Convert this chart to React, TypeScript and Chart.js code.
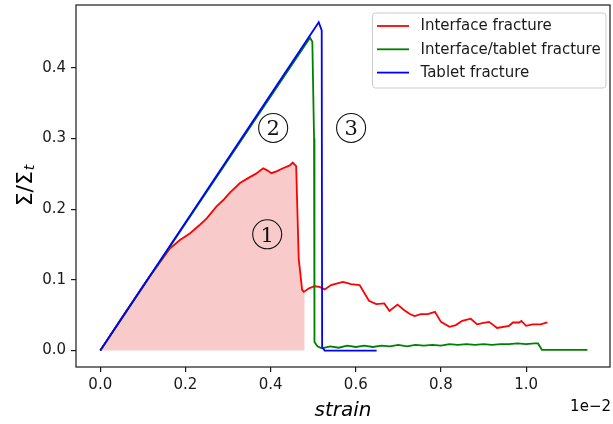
import React, { useEffect, useRef } from 'react';
import { Chart, registerables } from 'chart.js';

Chart.register(...registerables);

// ---- data ----
const xTicks = [0, 0.2, 0.4, 0.6, 0.8, 1.0];
const yTicks = [0, 0.1, 0.2, 0.3, 0.4];
const seriesLabels = ['Interface fracture', 'Interface/tablet fracture', 'Tablet fracture'];
const seriesColors = ['#ff0000', '#008000', '#0000ff'];

const redStrain = [0, 0.05, 0.10, 0.117, 0.1327, 0.164, 0.187, 0.211, 0.234, 0.25, 0.273, 0.289, 0.304, 0.328, 0.347, 0.365, 0.3825, 0.392, 0.402, 0.415, 0.429, 0.445, 0.452, 0.46, 0.466, 0.474, 0.478, 0.49, 0.503, 0.515, 0.527, 0.542, 0.557, 0.57, 0.589, 0.609, 0.631, 0.648, 0.667, 0.679, 0.698, 0.714, 0.726, 0.738, 0.753, 0.769, 0.786, 0.80, 0.82, 0.835, 0.85, 0.87, 0.885, 0.90, 0.913, 0.932, 0.96, 0.969, 0.984, 0.989, 1.0, 1.015, 1.034, 1.05];
const redStress = [0, 0.046, 0.091, 0.106, 0.1186, 0.1447, 0.1565, 0.166, 0.178, 0.187, 0.204, 0.213, 0.223, 0.237, 0.244, 0.25, 0.258, 0.255, 0.251, 0.254, 0.258, 0.262, 0.266, 0.261, 0.13, 0.086, 0.083, 0.088, 0.091, 0.090, 0.0865, 0.0926, 0.095, 0.097, 0.094, 0.0926, 0.0704, 0.0657, 0.0667, 0.056, 0.065, 0.057, 0.052, 0.0487, 0.0515, 0.0515, 0.0548, 0.0406, 0.0335, 0.036, 0.042, 0.045, 0.037, 0.039, 0.0406, 0.032, 0.035, 0.0397, 0.0397, 0.042, 0.035, 0.037, 0.037, 0.0397];

const greenStrain = [0, 0.4926, 0.498, 0.502, 0.503, 0.51, 0.52, 0.54, 0.56, 0.58, 0.60, 0.62, 0.64, 0.66, 0.68, 0.70, 0.72, 0.74, 0.76, 0.78, 0.80, 0.82, 0.84, 0.86, 0.88, 0.90, 0.92, 0.94, 0.96, 0.98, 1.00, 1.02, 1.028, 1.037, 1.08, 1.144];
const greenStress = [0, 0.4426, 0.437, 0.30, 0.012, 0.006, 0.003, 0.006, 0.004, 0.007, 0.005, 0.007, 0.005, 0.007, 0.006, 0.008, 0.006, 0.008, 0.007, 0.008, 0.007, 0.009, 0.008, 0.009, 0.008, 0.009, 0.008, 0.009, 0.009, 0.010, 0.009, 0.010, 0.010, 0.001, 0.001, 0.001];

const blueStrain = [0, 0.513, 0.52, 0.521, 0.527, 0.649];
const blueStress = [0, 0.4647, 0.453, 0.005, 0.0, 0.0];

const shadeEndStrain = 0.48;
const shadeEndStress = 0.086;

const annotations = [
  { label: '1', x: 0.392, y: 0.1645 },
  { label: '2', x: 0.406, y: 0.315 },
  { label: '3', x: 0.589, y: 0.315 },
];

const xMin = -0.057, xMax = 1.197;
const yMin = -0.0233, yMax = 0.489;

const toPoints = (xs: number[], ys: number[]) => xs.map((x, i) => ({ x, y: ys[i] }));

const zeroPad = (s: any) => {
  s.paddingTop = 0;
  s.paddingBottom = 0;
  s.paddingLeft = 0;
  s.paddingRight = 0;
};

const decor = {
  id: 'decor',
  afterDraw(chart: any) {
    const ctx = chart.ctx as CanvasRenderingContext2D;
    const { left, right, top, bottom } = chart.chartArea;
    const xs = chart.scales.x, ys = chart.scales.y;
    ctx.save();
    // frame
    ctx.strokeStyle = '#1a1a1a';
    ctx.lineWidth = 1.2;
    ctx.strokeRect(left, top, right - left, bottom - top);

    // annotations
    for (const a of annotations) {
      const px = xs.getPixelForValue(a.x), py = ys.getPixelForValue(a.y);
      ctx.beginPath();
      ctx.arc(px, py, 14.5, 0, Math.PI * 2);
      ctx.lineWidth = 1.1;
      ctx.strokeStyle = '#111';
      ctx.stroke();
      ctx.fillStyle = '#111';
      ctx.font = '21px "DejaVu Serif", "Liberation Serif", serif';
      ctx.textAlign = 'center';
      ctx.textBaseline = 'alphabetic';
      ctx.fillText(a.label, px, py + 7.5);
    }

    // legend
    const lx = 372.5, ly = 13, lw = 233.5, lh = 75;
    ctx.beginPath();
    (ctx as any).roundRect(lx, ly, lw, lh, 3);
    ctx.fillStyle = 'rgba(255,255,255,0.8)';
    ctx.fill();
    ctx.strokeStyle = '#cccccc';
    ctx.lineWidth = 1;
    ctx.stroke();
    ctx.font = '15px "DejaVu Sans"';
    ctx.textAlign = 'left';
    ctx.textBaseline = 'middle';
    seriesLabels.forEach((lab, i) => {
      const yy = 26 + i * 23.3;
      ctx.beginPath();
      ctx.moveTo(377, yy);
      ctx.lineTo(409, yy);
      ctx.strokeStyle = seriesColors[i];
      ctx.lineWidth = 1.8;
      ctx.stroke();
      ctx.fillStyle = '#1a1a1a';
      ctx.fillText(lab, 420.5, yy + 0.5);
    });

    // x label
    ctx.fillStyle = '#000';
    ctx.font = 'italic 20px "DejaVu Sans"';
    ctx.textAlign = 'center';
    ctx.textBaseline = 'alphabetic';
    ctx.fillText('strain', (left + right) / 2, 416);

    // offset text
    ctx.font = '15px "DejaVu Sans"';
    ctx.textAlign = 'right';
    ctx.fillText('1e\u22122', 611, 411);

    // y label
    ctx.translate(31.5, (top + bottom) / 2);
    ctx.rotate(-Math.PI / 2);
    ctx.font = '22px "DejaVu Sans"';
    const main = '\u03A3/\u03A3';
    const wMain = ctx.measureText(main).width;
    ctx.font = 'italic 14px "DejaVu Sans"';
    const wSub = ctx.measureText('t').width;
    const start = -(wMain + wSub) / 2;
    ctx.font = '22px "DejaVu Sans"';
    ctx.textAlign = 'left';
    ctx.fillText(main, start, 0);
    ctx.font = 'italic 14px "DejaVu Sans"';
    ctx.fillText('t', start + wMain + 1, 2);
    ctx.restore();
  },
};

export default function App() {
  const ref = useRef<HTMLCanvasElement>(null);
  useEffect(() => {
    const canvas = ref.current!;
    const redPts = toPoints(redStrain, redStress);
    const shadePts = redPts.filter((p) => p.x <= shadeEndStrain - 0.005).concat([{ x: shadeEndStrain, y: shadeEndStress }]);
    const chart = new Chart(canvas, {
      type: 'scatter',
      data: {
        datasets: [
          { label: seriesLabels[0], data: redPts, showLine: true, borderColor: seriesColors[0], borderWidth: 1.8, pointRadius: 0, fill: false, order: 3 },
          { label: seriesLabels[1], data: toPoints(greenStrain, greenStress), showLine: true, borderColor: seriesColors[1], borderWidth: 1.8, pointRadius: 0, fill: false, order: 2 },
          { label: seriesLabels[2], data: toPoints(blueStrain, blueStress), showLine: true, borderColor: seriesColors[2], borderWidth: 1.8, pointRadius: 0, fill: false, order: 1 },
          { label: 'shade', data: shadePts, showLine: true, borderWidth: 0, borderColor: 'rgba(0,0,0,0)', backgroundColor: 'rgba(240,128,128,0.42)', pointRadius: 0, fill: 'origin', order: 10 },
        ],
      },
      options: {
        responsive: false,
        animation: false,
        layout: { padding: { left: 0, top: 5, right: 3, bottom: 0 } },
        plugins: { legend: { display: false }, tooltip: { enabled: false } },
        scales: {
          x: {
            type: 'linear',
            min: xMin,
            max: xMax,
            afterFit: (s: any) => { s.height = 57; zeroPad(s); },
            afterBuildTicks: (s: any) => { s.ticks = xTicks.map((v) => ({ value: v })); },
            ticks: { callback: (v: any) => Number(v).toFixed(1), font: { family: 'DejaVu Sans', size: 15 }, color: '#1a1a1a', padding: 4, maxRotation: 0, autoSkip: false },
            grid: { display: true, drawOnChartArea: false, drawTicks: true, tickLength: 5, color: '#1a1a1a', lineWidth: 1.2 },
            border: { display: false },
          },
          y: {
            type: 'linear',
            min: yMin,
            max: yMax,
            afterFit: (s: any) => { s.width = 76; zeroPad(s); },
            afterBuildTicks: (s: any) => { s.ticks = yTicks.map((v) => ({ value: v })); },
            ticks: { callback: (v: any) => Number(v).toFixed(1), font: { family: 'DejaVu Sans', size: 15 }, color: '#1a1a1a', padding: 5, autoSkip: false },
            grid: { display: true, drawOnChartArea: false, drawTicks: true, tickLength: 5, color: '#1a1a1a', lineWidth: 1.2 },
            border: { display: false },
          },
        },
      },
      plugins: [decor],
    });
    return () => chart.destroy();
  }, []);
  return (
    <div style={{ position: 'fixed', left: 0, top: 0, width: 613, height: 424, background: '#fff' }}>
      <canvas ref={ref} width={613} height={424} style={{ display: 'block' }} />
    </div>
  );
}
